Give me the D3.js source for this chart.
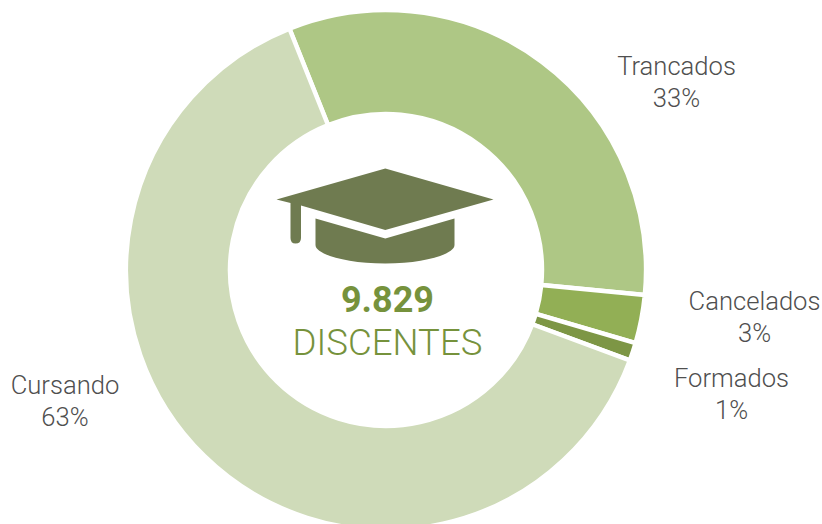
<!DOCTYPE html>
<html><head><meta charset="utf-8">
<script src="https://cdn.jsdelivr.net/npm/d3@7"></script>
<style>html,body{margin:0;padding:0;background:#fff;overflow:hidden}svg{display:block}text{font-family:Roboto,sans-serif}</style>
</head><body><svg id="c" width="822" height="524"></svg>
<script>
const categories = ["Trancados","Cancelados","Formados","Cursando"];
const values = [3203,295,110,6221];
const percentLabels = ["33%","3%","1%","63%"];
const colors = ["#AEC785","#92AF55","#7D9645","#CFDBB9"];
const totalLabel = "9.829";
const centerLabel = "DISCENTES";

const cx=386, cy=270, R=260, r=156;
const svg=d3.select("#c");
const g=svg.append("g").attr("transform",`translate(${cx},${cy})`);
const pie=d3.pie().sort(null).startAngle(-21.8*Math.PI/180).endAngle(338.2*Math.PI/180);
const arc=d3.arc().innerRadius(r).outerRadius(R);
g.selectAll("path").data(pie(values)).join("path")
 .attr("d",arc).attr("fill",(d,i)=>colors[i]).attr("stroke","#fff").attr("stroke-width",4.4);

// label anchor positions (presentation only)
const labelPos=[[676.5,74.5],[754.5,309.5],[731.5,386.5],[65,393.5]];
const lab=svg.append("g").selectAll("g").data(categories).join("g")
 .attr("transform",(d,i)=>`translate(${labelPos[i][0]},${labelPos[i][1]})`);
lab.append("text").attr("text-anchor","middle").attr("font-size",25.6).attr("font-weight",300).attr("fill","#4f4f4f").text(d=>d);
lab.append("text").attr("text-anchor","middle").attr("y",32).attr("font-size",25.6).attr("font-weight",300).attr("fill","#4f4f4f").text((d,i)=>percentLabels[i]);

// graduation cap icon
const icon=svg.append("g").attr("fill","#6F7B50");
icon.append("path").attr("d","M385.3 168.5 L493.5 199.5 L385.3 230 L301 205.5 L301 238 Q301 243.5 295.5 243.5 Q290.5 243.5 290.5 238 L290.5 203 L276.5 199.5 Z");
icon.append("path").attr("d","M315.5 218.5 L385.3 238.5 L454.5 218.5 L454.5 245 C454.5 254 425 263.5 385.3 263.5 C345 263.5 315.5 254 315.5 245 Z");

svg.append("text").attr("x",cx+1.5).attr("y",312).attr("text-anchor","middle").attr("font-size",36).attr("font-weight",700).attr("fill","#76923C").text(totalLabel);
svg.append("text").attr("x",cx+1.5).attr("y",355).attr("text-anchor","middle").attr("font-size",36.6).attr("font-weight",300).attr("fill","#76923C").text(centerLabel);
</script></body></html>
